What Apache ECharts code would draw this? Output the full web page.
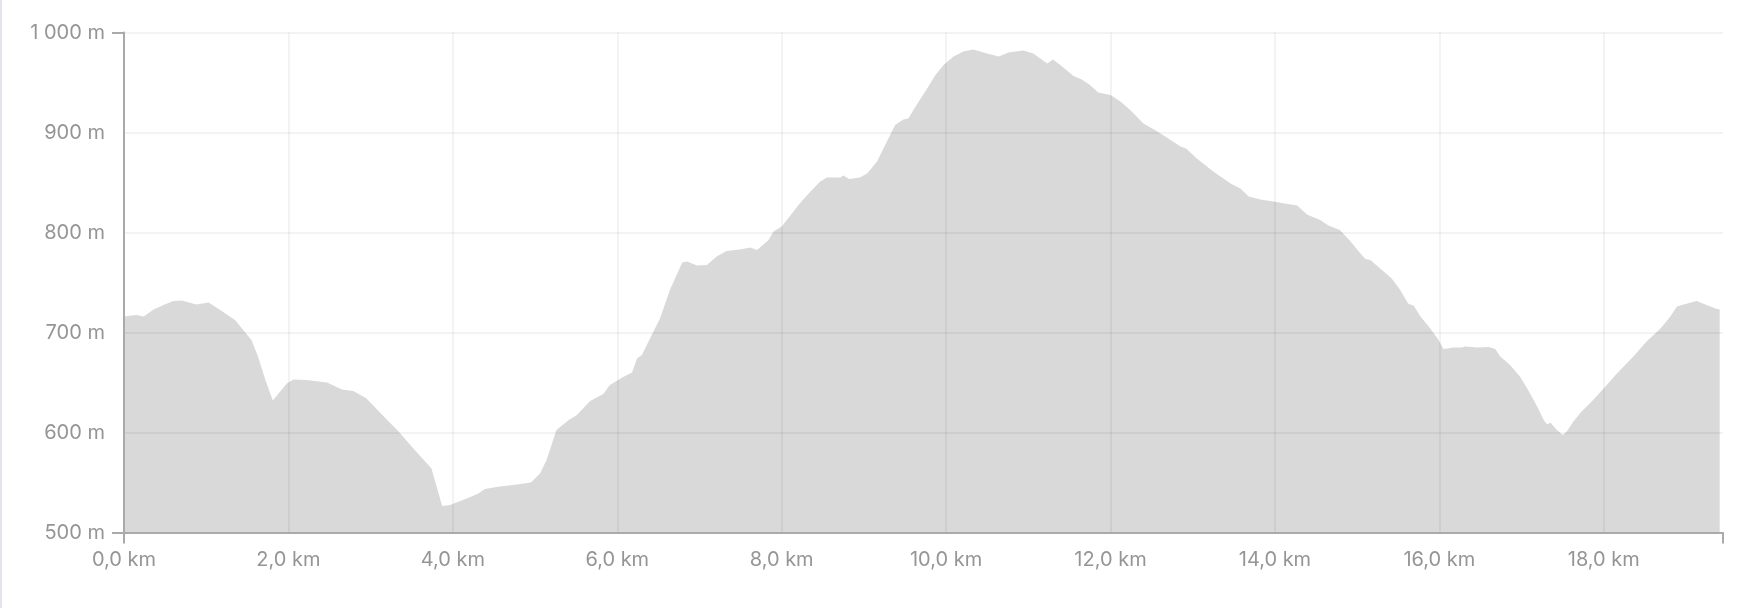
<!DOCTYPE html>
<html>
<head>
<meta charset="utf-8">
<script src="https://cdn.jsdelivr.net/npm/echarts@6/dist/echarts.min.js"></script>
<style>
  html, body { margin: 0; padding: 0; background: #fff; }
  #frame { position: absolute; left: 0; top: 0; width: 1750px; height: 608px; border-left: 2px solid #e4e4ec; box-sizing: border-box; }
  #chart { position: absolute; left: 0; top: 0; width: 1750px; height: 608px; }
</style>
</head>
<body>
<div id="frame"></div>
<div id="chart"></div>
<script>
// Distance along the route (km)
const distanceKm = [
  0.00, 0.15, 0.24, 0.36, 0.48, 0.60, 0.70, 0.88, 1.03, 1.17, 1.35, 1.45, 1.55, 1.63, 1.72, 1.81,
  1.98, 2.06, 2.22, 2.47, 2.65, 2.79, 2.95, 3.16, 3.34, 3.52, 3.74, 3.87, 3.97, 4.01, 4.17, 4.31,
  4.39, 4.57, 4.78, 4.95, 5.06, 5.14, 5.26, 5.41, 5.51, 5.67, 5.83, 5.91, 6.06, 6.18, 6.24, 6.30,
  6.44, 6.52, 6.64, 6.79, 6.85, 6.97, 7.09, 7.21, 7.33, 7.49, 7.62, 7.70, 7.84, 7.90, 8.00, 8.22,
  8.35, 8.47, 8.55, 8.71, 8.75, 8.82, 8.95, 9.04, 9.16, 9.28, 9.38, 9.48, 9.54, 9.64, 9.77, 9.87,
  9.97, 10.09, 10.21, 10.33, 10.50, 10.64, 10.76, 10.94, 11.06, 11.23, 11.30, 11.39, 11.55, 11.65,
  11.75, 11.85, 12.00, 12.12, 12.24, 12.40, 12.56, 12.73, 12.85, 12.92, 13.05, 13.25, 13.46, 13.58,
  13.68, 13.82, 13.98, 14.12, 14.27, 14.39, 14.55, 14.65, 14.79, 14.92, 15.02, 15.10, 15.16, 15.28,
  15.42, 15.52, 15.62, 15.69, 15.77, 15.89, 15.99, 16.05, 16.17, 16.27, 16.31, 16.46, 16.60, 16.68,
  16.74, 16.86, 16.98, 17.08, 17.19, 17.27, 17.31, 17.35, 17.43, 17.50, 17.55, 17.63, 17.73, 17.87,
  18.02, 18.16, 18.36, 18.52, 18.69, 18.81, 18.89, 18.97, 19.13, 19.25, 19.36, 19.41
];
// Elevation (m)
const elevationM = [
  716, 717.5, 716, 723, 727.5, 731.5, 732, 728, 730, 722.5, 712.5, 702.5, 692.5, 676, 652.5, 632,
  649, 653, 652.5, 650, 643, 641.5, 634, 616, 601, 584, 564, 526.5, 527.5, 529, 534, 539,
  543.5, 546, 548, 550, 559, 572.5, 602.5, 612.5, 617.5, 631.5, 638.5, 647.5, 655, 660, 674, 677.5,
  701, 714, 742.5, 770, 771, 767, 767.5, 776, 781.5, 783, 785, 782.5, 792.5, 801, 806, 829,
  841, 851, 855, 855, 857, 853.5, 855, 859, 871, 891, 907.5, 913, 914, 927.5, 944, 957.5,
  967.5, 976, 981, 983, 979, 976, 980, 982, 979, 969, 973, 967.5, 956.5, 953,
  947.5, 940, 937.5, 931, 922.5, 909, 901.5, 892.5, 886, 884, 874, 861, 849, 844,
  836, 833, 831, 829, 827, 818, 812.5, 807, 802.5, 791, 781, 773.5, 772.5, 764,
  754, 743, 729, 726.5, 716, 704, 692.5, 683.5, 685, 685, 686, 685, 685.5, 683.5,
  676, 667.5, 656, 642.5, 626, 612.5, 608, 610, 602.5, 597.5, 601, 611, 621, 632.5,
  646, 659, 676, 691, 704, 716, 726, 728, 731.5, 727.5, 724, 723
];
// Axis ranges and tick steps
const xRange = [0, 19.45];
const xStep = 2;
const yRange = [500, 1000];
const yStep = 100;

const seriesData = distanceKm.map((d, i) => [d, elevationM[i]]);

const fontFamily = 'Inter, "Noto Sans", sans-serif';
const textColor = '#959595';
const axisColor = '#aaaaaa';
const gridColor = 'rgba(0,0,0,0.068)';

function fmtKm(v) { return v.toFixed(1).replace('.', ',') + ' km'; }
function fmtM(v) { return String(Math.round(v)).replace(/\B(?=(\d{3})+(?!\d))/g, ' ') + ' m'; }

const chart = echarts.init(document.getElementById('chart'), null, { renderer: 'canvas' });
chart.setOption({
  animation: false,
  backgroundColor: 'transparent',
  grid: { left: 124, right: 27, top: 32.5, bottom: 75.5, containLabel: false },
  xAxis: [
    {
      type: 'value', min: xRange[0], max: xRange[1], interval: xStep, z: 3,
      axisLine: { show: true, lineStyle: { color: axisColor, width: 2 } },
      axisTick: { show: false },
      axisLabel: { color: textColor, fontSize: 20, fontFamily: fontFamily, margin: 17, formatter: fmtKm, showMaxLabel: false },
      splitLine: { show: true, showMaxLine: false, showMinLine: false, lineStyle: { color: gridColor, width: 1.5 } }
    },
    {
      type: 'value', min: xRange[0], max: xRange[1], interval: xRange[1], z: 3, position: 'bottom',
      axisLine: { show: false },
      axisTick: { show: true, length: 11, lineStyle: { color: axisColor, width: 2 } },
      axisLabel: { show: false },
      splitLine: { show: false }
    }
  ],
  yAxis: [
    {
      type: 'value', min: yRange[0], max: yRange[1], interval: yStep, z: 3,
      axisLine: { show: true, lineStyle: { color: axisColor, width: 2 } },
      axisTick: { show: false },
      axisLabel: { color: textColor, fontSize: 20, fontFamily: fontFamily, margin: 19, formatter: fmtM },
      splitLine: { show: true, showMinLine: false, lineStyle: { color: gridColor, width: 1.5 } }
    },
    {
      type: 'value', min: yRange[0], max: yRange[1], interval: yRange[1] - yRange[0], z: 3, position: 'left',
      axisLine: { show: false },
      axisTick: { show: true, length: 12, lineStyle: { color: axisColor, width: 2 } },
      axisLabel: { show: false },
      splitLine: { show: false }
    }
  ],
  series: [{
    type: 'line',
    xAxisIndex: 0,
    yAxisIndex: 0,
    data: seriesData,
    showSymbol: false,
    symbol: 'none',
    smooth: false,
    lineStyle: { width: 0, color: '#d9d9d9' },
    areaStyle: { color: '#d9d9d9', opacity: 1 },
    z: 2,
    silent: true
  }]
});
</script>
</body>
</html>
